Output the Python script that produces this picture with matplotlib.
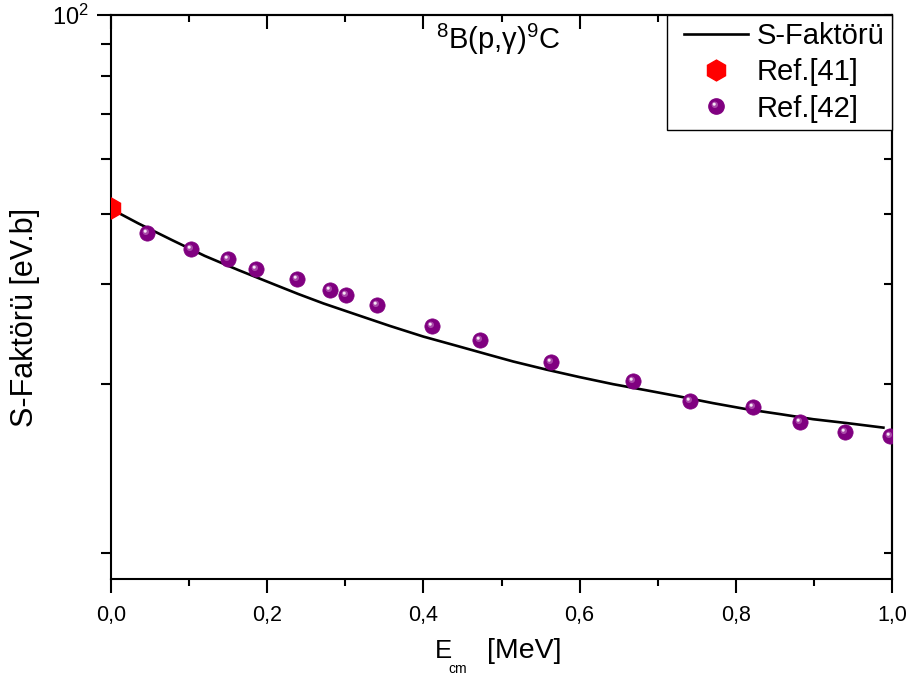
import matplotlib.pyplot as plt
from matplotlib.path import Path
from matplotlib.lines import Line2D
from matplotlib.legend_handler import HandlerLine2D
from matplotlib.ticker import FixedLocator, NullFormatter

plt.rcParams['font.family'] = ['Liberation Sans', 'DejaVu Sans']
plt.rcParams['mathtext.fontset'] = 'custom'
plt.rcParams['mathtext.rm'] = 'Liberation Sans'
plt.rcParams['mathtext.it'] = 'Liberation Sans:italic'

# S-faktör eğrisi (okunan değerler)
E_egri = [0.0, 0.035, 0.078, 0.120, 0.163, 0.211, 0.240, 0.272, 0.315, 0.357,
          0.400, 0.443, 0.485, 0.515, 0.558, 0.600, 0.643, 0.686, 0.729, 0.771,
          0.814, 0.857, 0.899, 0.942, 0.989]
S_egri = [45.3, 42.7, 39.9, 37.4, 35.3, 33.2, 32.0, 30.8, 29.4, 28.1,
          26.9, 25.9, 24.95, 24.3, 23.5, 22.8, 22.15, 21.6, 21.05, 20.5,
          20.0, 19.6, 19.2, 18.9, 18.55]

# Ref.[41]
E_41 = [0.0]
S_41 = [45.5]

# Ref.[42]
E_42 = [0.046, 0.102, 0.150, 0.186, 0.238, 0.281, 0.301, 0.340, 0.411, 0.473,
        0.563, 0.668, 0.741, 0.822, 0.882, 0.940, 0.997]
S_42 = [41.0, 38.5, 36.9, 35.4, 34.0, 32.6, 31.9, 30.6, 28.1, 26.5,
        24.3, 22.4, 20.7, 20.2, 19.0, 18.2, 17.9]

x_major = [0.0, 0.2, 0.4, 0.6, 0.8, 1.0]
x_labels = ["0,0", "0,2", "0,4", "0,6", "0,8", "1,0"]
x_minor = [0.1, 0.3, 0.5, 0.7, 0.9]
y_minor = [11.1, 22.2, 33.3, 44.4, 55.6, 66.7, 77.8, 88.9]

mor = '#800080'
yari = '#a848a8'
parlak = '#f6e8f6'


def isik_marker(cx, cy, r):
    # küre parlaklığı için kaydırılmış küçük daire (ölçek sabit kalsın diye sınır noktaları)
    sinir = Path([(-1, -1), (1, 1)], [Path.MOVETO, Path.MOVETO])
    return Path.make_compound_path(sinir, Path.circle(center=(cx, cy), radius=r))


isik1 = isik_marker(-0.22, 0.22, 0.42)
isik2 = isik_marker(-0.3, 0.3, 0.2)

fig = plt.figure(figsize=(9.13, 6.81), dpi=100)
ax = fig.add_axes([0.1216, 0.1498, 0.8554, 0.8282])

ax.plot(E_egri, S_egri, color='black', lw=1.9, zorder=2)
ax.plot(E_41, S_41, ls='none', marker='h', ms=15, color='red', mec='red', zorder=4)
ax.plot(E_42, S_42, ls='none', marker='o', ms=11, color=mor, mec=mor, mew=0.5, zorder=3)
ax.plot(E_42, S_42, ls='none', marker=isik1, ms=11, color=yari, mec='none', zorder=3.4)
ax.plot(E_42, S_42, ls='none', marker=isik2, ms=11, color=parlak, mec='none', zorder=3.5)

ax.set_yscale('log')
ax.set_xlim(0, 1)
ax.set_ylim(10, 100)

ax.set_xticks(x_major)
ax.set_xticklabels(x_labels, fontsize=15.5)
ax.xaxis.set_minor_locator(FixedLocator(x_minor))
ax.set_yticks([100])
ax.set_yticklabels([r'10$^2$'], fontsize=17)
ax.yaxis.set_minor_locator(FixedLocator(y_minor))
ax.yaxis.set_minor_formatter(NullFormatter())

ax.tick_params(which='major', direction='out', length=10, width=1.5)
ax.tick_params(axis='x', which='major', pad=9)
ax.tick_params(axis='x', which='minor', direction='out', length=5, width=1.5)
ax.tick_params(axis='y', which='minor', direction='out', length=7, width=1.5)
ax.tick_params(axis='y', which='major', pad=6)
for s in ax.spines.values():
    s.set_linewidth(1.5)

ust = ax.secondary_xaxis('top')
ust.set_xticks(x_major)
ust.xaxis.set_minor_locator(FixedLocator(x_minor))
ust.tick_params(which='major', direction='in', length=10, width=1.5, labeltop=False)
ust.tick_params(which='minor', direction='in', length=5, width=1.5)
ust.spines['top'].set_linewidth(1.5)

sag = ax.secondary_yaxis('right')
sag.set_yticks([100])
sag.yaxis.set_minor_locator(FixedLocator(y_minor))
sag.yaxis.set_minor_formatter(NullFormatter())
sag.tick_params(which='both', direction='in', length=6, width=1.5, labelright=False)
sag.spines['right'].set_linewidth(1.5)

# x ekseni başlığı: E, alt indis cm, [MeV]
W, H = 913, 681
fig.text(435 / W, 1 - 658 / H, 'E', fontsize=18.5, ha='left', va='baseline')
fig.text(448 / W, 1 - 673 / H, 'cm', fontsize=10, ha='left', va='baseline')
fig.text(487 / W, 1 - 658 / H, '[MeV]', fontsize=20.5, ha='left', va='baseline')

ax.set_ylabel('S-Faktörü [eV.b]', fontsize=22)
ax.yaxis.set_label_coords(-0.091, 0.4637)

ax.text(0.496, 0.988, r'$^{8}$B(p,γ)$^{9}$C', transform=ax.transAxes,
        ha='center', va='top', fontsize=21)

h_egri = Line2D([], [], color='black', lw=1.9)
h_41 = Line2D([], [], ls='none', marker='h', ms=15, color='red')
h_42a = Line2D([], [], ls='none', marker='o', ms=11, color=mor)
h_42b = Line2D([], [], ls='none', marker=isik1, ms=11, color=yari, mec='none')
h_42c = Line2D([], [], ls='none', marker=isik2, ms=11, color=parlak, mec='none')
leg = ax.legend([h_egri, h_41, (h_42a, h_42b, h_42c)], ['S-Faktörü', 'Ref.[41]', 'Ref.[42]'],
                handler_map={h_egri: HandlerLine2D(numpoints=2, marker_pad=0.32)},
                loc='upper right', fontsize=21, frameon=True, fancybox=False,
                edgecolor='black', framealpha=1, borderaxespad=0,
                handlelength=2.83, handletextpad=0.0, labelspacing=0.28, borderpad=0.25)
leg.get_frame().set_linewidth(1.0)
leg.set_zorder(5)

fig.savefig('out.png', dpi=100)
